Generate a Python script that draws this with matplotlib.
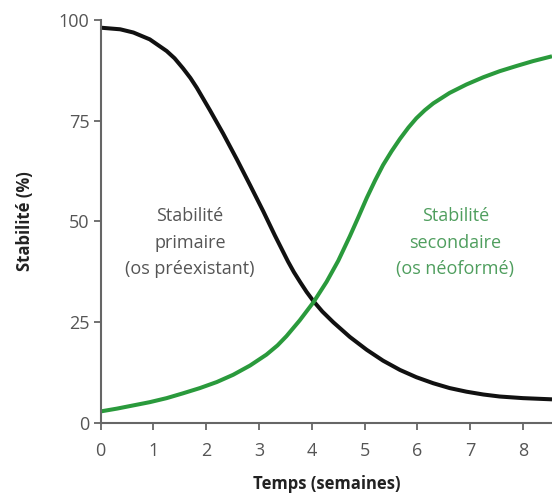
import matplotlib.pyplot as plt

plt.rcParams['font.family'] = ['Open Sans', 'DejaVu Sans']

# values (weeks, stability %)
weeks_primary = [0, 0.37, 0.62, 0.93, 1.25, 1.40, 1.56, 1.70, 1.82, 2.07,
                 2.32, 2.58, 2.83, 3.08, 3.30, 3.55, 3.66, 3.78, 3.90, 4.03,
                 4.20, 4.41, 4.72, 5.04, 5.35, 5.67, 5.98, 6.30, 6.61, 6.93,
                 7.25, 7.56, 8.0, 8.55]
primary = [98.1, 97.7, 96.9, 95.2, 92.3, 90.5, 88.0, 85.6, 83.2, 77.6,
           71.8, 65.4, 59.0, 52.5, 46.5, 40.0, 37.4, 34.9, 32.5, 30.2,
           27.6, 24.9, 21.3, 18.1, 15.4, 13.1, 11.3, 9.8, 8.6, 7.7,
           7.0, 6.5, 6.1, 5.8]

weeks_secondary = [0, 0.31, 0.62, 0.93, 1.25, 1.56, 1.88, 2.2, 2.51, 2.83,
                   3.14, 3.35, 3.52, 3.77, 4.03, 4.28, 4.50, 4.72, 4.88, 5.04,
                   5.20, 5.35, 5.51, 5.67, 5.83, 5.98, 6.14, 6.30, 6.61, 6.93,
                   7.25, 7.56, 7.88, 8.19, 8.55]
secondary = [2.8, 3.5, 4.3, 5.1, 6.1, 7.3, 8.6, 10.1, 11.9, 14.2,
             16.9, 19.2, 21.5, 25.4, 29.9, 35.0, 40.2, 46.3, 51.0, 55.8,
             60.2, 64.0, 67.4, 70.5, 73.3, 75.6, 77.6, 79.3, 81.9, 84.0,
             85.8, 87.3, 88.6, 89.8, 91.0]

x_ticks = [0, 1, 2, 3, 4, 5, 6, 7, 8]
y_ticks = [0, 25, 50, 75, 100]

grey = '#666666'
green = '#2a9a3c'

fig = plt.figure(figsize=(5.52, 5.01), dpi=100)
ax = fig.add_axes([0.1824, 0.1563, 0.8176, 0.8037])

ax.plot(weeks_primary, primary, color='#111111', lw=2.9,
        solid_joinstyle='round', solid_capstyle='butt', clip_on=False)
ax.plot(weeks_secondary, secondary, color=green, lw=2.9,
        solid_joinstyle='round', solid_capstyle='butt', clip_on=False)

ax.set_xlim(0, 8.55)
ax.set_ylim(0, 100)
ax.set_xticks(x_ticks)
ax.set_yticks(y_ticks)

for s in ['top', 'right']:
    ax.spines[s].set_visible(False)
for s in ['left', 'bottom']:
    ax.spines[s].set_color(grey)
    ax.spines[s].set_linewidth(1.5)
ax.tick_params(colors=grey, labelcolor='#555555', labelsize=13,
               length=5, width=1.3)
ax.tick_params(axis='x', pad=9)
ax.tick_params(axis='y', pad=3)

ax.set_xlabel('Temps (semaines)', fontsize=12, fontweight='bold',
              color='#222222', labelpad=11)
ax.set_ylabel('Stabilité (%)', fontsize=12, fontweight='bold',
              color='#222222', labelpad=18)

ax.text(1.69, 44.7, 'Stabilité\nprimaire\n(os préexistant)', ha='center',
        va='center', fontsize=13, color='#555555', linespacing=1.6)
ax.text(6.72, 44.7, 'Stabilité\nsecondaire\n(os néoformé)', ha='center',
        va='center', fontsize=13, color='#4f9e5e', linespacing=1.6)

fig.savefig('out.png', dpi=100)
